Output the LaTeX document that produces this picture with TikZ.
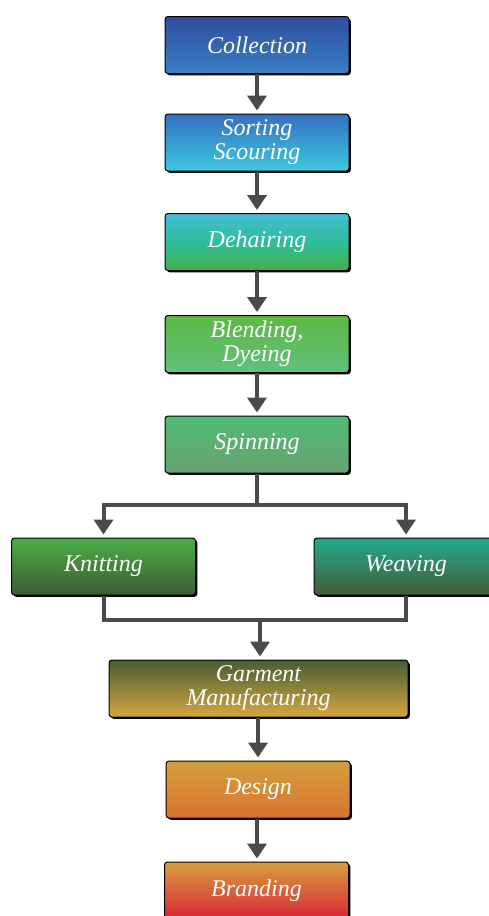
\documentclass[tikz,border=0pt]{standalone}
\usepackage{fontspec}
\setmainfont{Liberation Serif}
\usetikzlibrary{arrows.meta,shadows,calc}
\definecolor{arrowgray}{HTML}{4A4A4E}
\definecolor{collT}{HTML}{2C4E9E}\definecolor{collB}{HTML}{3B7FC6}
\definecolor{sortT}{HTML}{3570C0}\definecolor{sortB}{HTML}{3CC8E0}
\definecolor{dehT}{HTML}{46BCD6}\definecolor{dehM}{HTML}{2DBE9A}\definecolor{dehB}{HTML}{45B04A}
\definecolor{blendT}{HTML}{5DB845}\definecolor{blendB}{HTML}{62C07C}
\definecolor{spinT}{HTML}{4DBC74}\definecolor{spinB}{HTML}{6BA273}
\definecolor{knitT}{HTML}{4AAF47}\definecolor{knitB}{HTML}{3E5B32}
\definecolor{weaveT}{HTML}{22AA8E}\definecolor{weaveB}{HTML}{445C35}
\definecolor{garmT}{HTML}{445F32}\definecolor{garmB}{HTML}{D6A640}
\definecolor{desT}{HTML}{D5A03E}\definecolor{desB}{HTML}{D9732F}
\definecolor{brandT}{HTML}{D9A03E}\definecolor{brandB}{HTML}{D72535}
\tikzset{
  stepbox/.style 2 args={draw=black, line width=1pt, rounded corners=3pt,
    minimum width=184pt, minimum height=57pt, inner sep=0pt,
    top color=#1, bottom color=#2, text=white,
    font=\fontsize{24}{24}\selectfont\itshape, align=center,
    drop shadow={shadow xshift=1.8pt, shadow yshift=-1.8pt, fill=black, opacity=1}},
  conn/.style={draw=arrowgray, line width=4pt},
  arr/.style={conn, -{Triangle[width=19pt,length=15pt]}, shorten >=3pt},
}
\begin{document}
\begin{tikzpicture}[x=1pt,y=-1pt]
\useasboundingbox (0,0) rectangle (489,916);
\clip (0,0) rectangle (489,916);
\node[stepbox={collT}{collB}] (coll) at (257,45) {Collection};
\node[stepbox={sortT}{sortB}] (sort) at (257,142.5) {Sorting\\Scouring};
\node[stepbox={dehT}{dehB}, middle color=dehM] (deh) at (257,242) {Dehairing};
\node[stepbox={blendT}{blendB}] (blend) at (257,344) {Blending,\\Dyeing};
\node[stepbox={spinT}{spinB}] (spin) at (257,444.5) {Spinning};
\node[stepbox={knitT}{knitB}] (knit) at (103.5,566.5) {Knitting};
\node[stepbox={weaveT}{weaveB}] (weave) at (406,566.5) {Weaving};
\node[stepbox={garmT}{garmB}, minimum width=299pt] (garm) at (258.5,688.5) {Garment\\Manufacturing};
\node[stepbox={desT}{desB}] (design) at (258,789.5) {Design};
\node[stepbox={brandT}{brandB}] (brand) at (256.5,890.5) {Branding};
\draw[arr] (coll.south) -- (sort.north);
\draw[arr] (sort.south) -- (deh.north);
\draw[arr] (deh.south) -- (blend.north);
\draw[arr] (blend.south) -- (spin.north);
\coordinate (sp) at (257,505);
\draw[conn] (spin.south) -- (sp);
\draw[arr] ($(sp)+(2,0)$) -| (knit.north);
\draw[arr] ($(sp)-(2,0)$) -| (weave.north);
\coordinate (jn) at (260,620);
\draw[conn] (knit.south) |- (jn) -| (weave.south);
\draw[arr] ($(jn)-(0,2)$) -- (jn |- garm.north);
\draw[arr] (garm.south -| design.north) -- (design.north);
\coordinate (db) at (257,818);
\draw[arr] (design.south -| db) -- (db |- brand.north);
\end{tikzpicture}
\end{document}
